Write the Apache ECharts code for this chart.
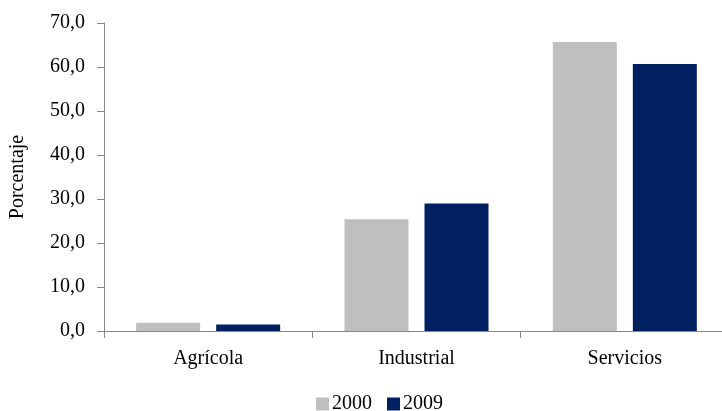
<!DOCTYPE html>
<html>
<head>
<meta charset="utf-8">
<script src="https://cdn.jsdelivr.net/npm/echarts@6/dist/echarts.min.js"></script>
<style>
  html, body { margin: 0; padding: 0; background: #ffffff; }
  #chart { width: 722px; height: 411px; }
</style>
</head>
<body>
<div id="chart"></div>
<script>
// Employment share by sector (%)
const categories = ['Agrícola', 'Industrial', 'Servicios'];
const seriesNames = ['2000', '2009'];
const values2000 = [1.9, 25.4, 65.7];
const values2009 = [1.5, 29.0, 60.7];
const yTicks = { min: 0, max: 70, interval: 10 };

const FONT = 'Liberation Serif';
const FS = 20;
const axisGray = '#868686';

const chart = echarts.init(document.getElementById('chart'), null, { renderer: 'canvas' });
chart.setOption({
  animation: false,
  textStyle: { fontFamily: FONT, color: '#000' },
  // plot area runs a little past the right edge of the canvas
  grid: {
    left: 104, top: 23, width: 625, height: 308,
    containLabel: false, outerBoundsMode: 'none'
  },
  legend: {
    top: 389,
    left: 311,
    itemWidth: 13,
    itemHeight: 13,
    itemGap: 15,
    icon: 'rect',
    textStyle: { fontFamily: FONT, fontSize: FS, color: '#000', padding: [0, 0, 0, -2] },
    data: seriesNames
  },
  xAxis: {
    type: 'category',
    data: categories,
    axisLine: { lineStyle: { color: axisGray, width: 1 } },
    axisTick: { show: true, alignWithLabel: false, length: 7, lineStyle: { color: axisGray } },
    axisLabel: { fontFamily: FONT, fontSize: FS, color: '#000', margin: 18 }
  },
  yAxis: {
    type: 'value',
    min: yTicks.min,
    max: yTicks.max,
    interval: yTicks.interval,
    name: 'Porcentaje',
    nameLocation: 'middle',
    nameGap: 76,
    nameTextStyle: { fontFamily: FONT, fontSize: FS, color: '#000' },
    axisLine: { show: true, lineStyle: { color: axisGray, width: 1 } },
    axisTick: { show: true, length: 7, lineStyle: { color: axisGray } },
    splitLine: { show: false },
    axisLabel: {
      fontFamily: FONT, fontSize: FS, color: '#000', margin: 19,
      formatter: v => v.toFixed(1).replace('.', ',')
    }
  },
  series: [
    {
      name: seriesNames[0], type: 'bar', data: values2000,
      barWidth: 64, barGap: '25%',
      itemStyle: { color: '#BFBFBF' }
    },
    {
      name: seriesNames[1], type: 'bar', data: values2009,
      barWidth: 64,
      itemStyle: { color: '#002060' }
    }
  ]
});
</script>
</body>
</html>
